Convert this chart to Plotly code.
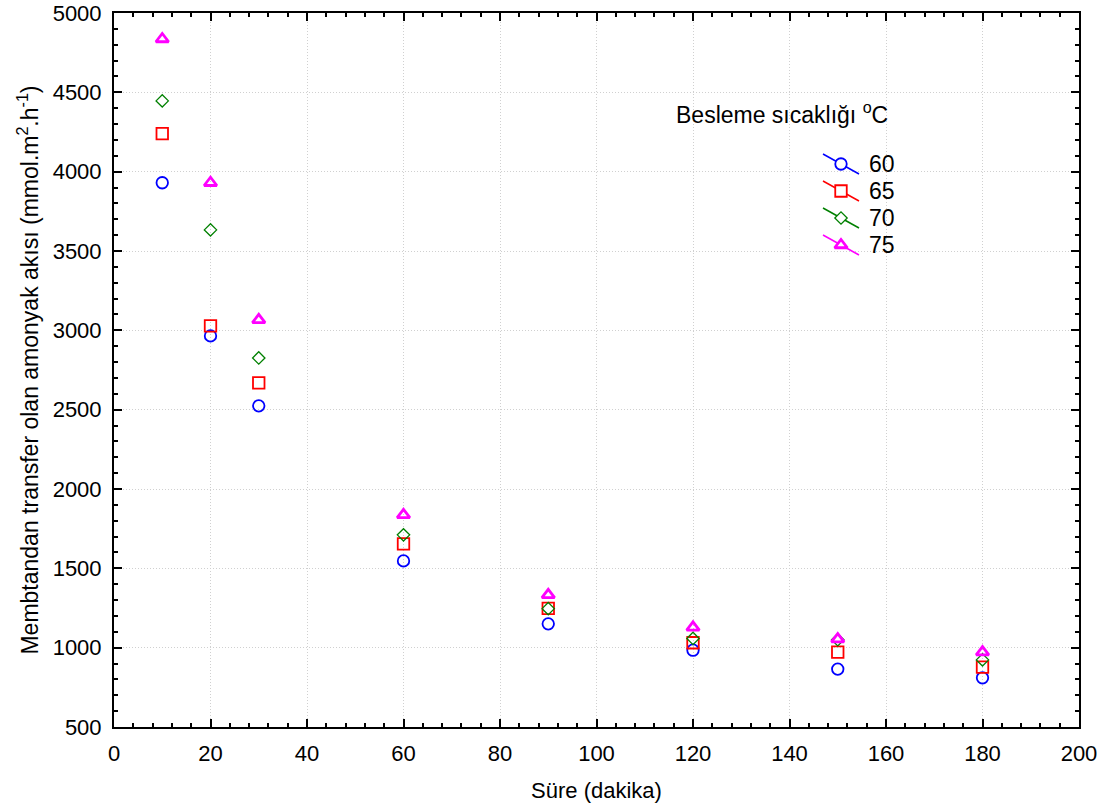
import plotly.graph_objects as go

# Time points (minutes)
sure = [10, 20, 30, 60, 90, 120, 150, 180]

# Ammonia flux through the membrane (mmol.m2.h-1) for each feed temperature
flux_60 = [3930, 2965, 2524, 1547, 1150, 984, 865, 810]
flux_65 = [4240, 3028, 2669, 1654, 1248, 1031, 972, 877]
flux_70 = [4446, 3633, 2826, 1711, 1246, 1058, 1050, 923]
flux_75 = [4836, 3930, 3066, 1837, 1333, 1128, 1054, 972]

labels = ["60", "65", "70", "75"]
series = [flux_60, flux_65, flux_70, flux_75]
colors = ["#0000FF", "#FF0000", "#008000", "#FF00FF"]
symbols = ["circle", "square", "diamond", "triangle-up"]
sizes = [11.5, 11.5, 9.5, 11]
widths = [1.8, 1.8, 1.3, 2.8]

FONT = "Liberation Sans, Arial, sans-serif"
FS = 22

fig = go.Figure()

for lab, ys, col, sym, sz, lw in zip(labels, series, colors, symbols, sizes, widths):
    fig.add_trace(go.Scatter(
        x=sure, y=ys, mode="markers", name=lab, showlegend=False,
        marker=dict(symbol=sym + "-open", size=sz, color=col,
                    line=dict(color=col, width=lw)),
    ))

# Hand-drawn legend on an overlay axis measured in pixels of the plot area
leg_x0, leg_y0, row_h = 727, 151, 27
for i, (lab, col, sym, sz, lw) in enumerate(zip(labels, colors, symbols, sizes, widths)):
    cy = leg_y0 + i * row_h
    fig.add_trace(go.Scatter(
        x=[leg_x0 - 18, leg_x0 + 18], y=[cy - 10, cy + 10], mode="lines",
        line=dict(color=col, width=1.5), xaxis="x2", yaxis="y2",
        showlegend=False, hoverinfo="skip",
    ))
    fig.add_trace(go.Scatter(
        x=[leg_x0], y=[cy], mode="markers", xaxis="x2", yaxis="y2",
        marker=dict(symbol=sym, size=sz, color="white",
                    line=dict(color=col, width=lw)),
        showlegend=False, hoverinfo="skip",
    ))
    fig.add_annotation(
        x=leg_x0 + 26, y=cy, xref="x2", yref="y2", text=lab, showarrow=False,
        xanchor="left", yanchor="middle", font=dict(size=23, color="black", family=FONT),
    )

fig.add_annotation(
    x=668, y=100, xref="x2", yref="y2", text="Besleme sıcaklığı <sup>o</sup>C",
    showarrow=False, xanchor="center", yanchor="middle",
    font=dict(size=23, color="black", family=FONT),
)

axis_common = dict(
    showline=True, linecolor="black", linewidth=2, mirror="allticks",
    ticks="inside", ticklen=8, tickwidth=1.5, tickcolor="black",
    showgrid=True, gridcolor="#d0d0d0", griddash="1px,2px", gridwidth=1,
    zeroline=False, tickfont=dict(size=FS, color="black", family=FONT),
    ticklabelstandoff=6, automargin=False,
)

fig.update_layout(
    width=1108, height=811,
    margin=dict(l=114, r=29, t=13, b=84),
    paper_bgcolor="white", plot_bgcolor="white",
    font=dict(family=FONT, color="black", size=FS),
    xaxis=dict(
        range=[0, 200], dtick=20, tick0=0,
        minor=dict(dtick=4, ticks="inside", ticklen=4, tickcolor="black", showgrid=False),
        title=dict(text="Süre (dakika)", font=dict(size=FS, family=FONT), standoff=17),
        **axis_common,
    ),
    yaxis=dict(
        range=[500, 5000], dtick=500, tick0=500,
        minor=dict(dtick=100, ticks="inside", ticklen=4, tickcolor="black", showgrid=False),
        title=dict(text="Membtandan transfer olan amonyak akısı (mmol.m<sup>2</sup>.h<sup>-1</sup>)",
                   font=dict(size=23, family=FONT), standoff=8),
        **axis_common,
    ),
    xaxis2=dict(range=[0, 965], overlaying="x", visible=False, fixedrange=True),
    yaxis2=dict(range=[714, 0], overlaying="y", visible=False, fixedrange=True),
)

fig.write_html("out.html")
